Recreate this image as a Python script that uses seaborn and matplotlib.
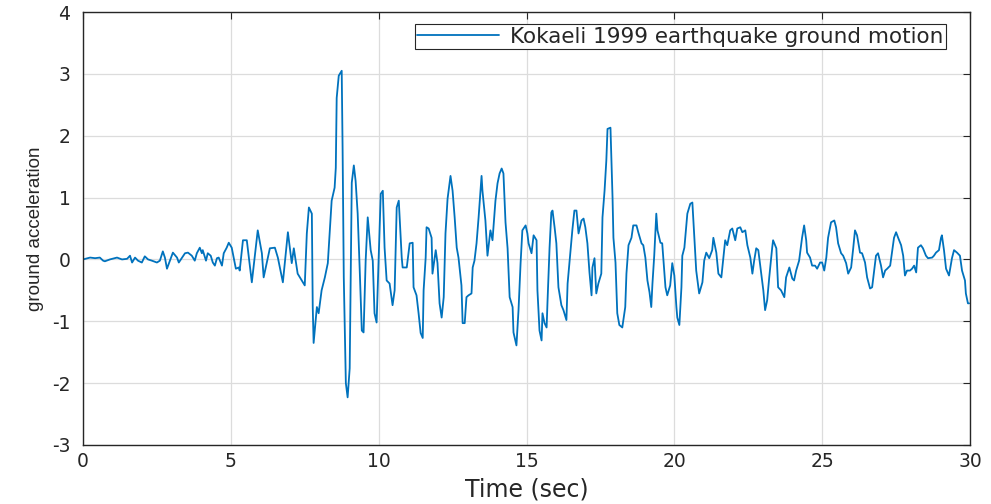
import matplotlib
matplotlib.use("Agg")
import matplotlib.pyplot as plt
import seaborn as sns
import pandas as pd

time_s = [0.00, 0.24, 0.41, 0.57, 0.68, 0.74, 0.91, 1.15, 1.32, 1.49, 1.59, 1.66, 1.76, 1.86, 1.99, 2.09,
          2.20, 2.33, 2.50, 2.60, 2.70, 2.77, 2.84, 2.94, 3.04, 3.18, 3.24, 3.34, 3.45, 3.55, 3.68, 3.78,
          3.85, 3.95, 4.02, 4.05, 4.16, 4.22, 4.32, 4.39, 4.46, 4.53, 4.59, 4.70, 4.76, 4.86, 4.93, 5.03,
          5.10, 5.17, 5.27, 5.30, 5.41, 5.54, 5.71, 5.91, 6.05, 6.11, 6.32, 6.49, 6.59, 6.76, 6.93, 7.06,
          7.13, 7.26, 7.50, 7.57, 7.64, 7.74, 7.77, 7.80, 7.91, 7.97, 8.07, 8.18, 8.28, 8.34, 8.41, 8.51,
          8.55, 8.58, 8.65, 8.75, 8.78, 8.82, 8.89, 8.95, 9.02, 9.05, 9.09, 9.16, 9.22, 9.29, 9.36, 9.43,
          9.49, 9.56, 9.63, 9.73, 9.80, 9.86, 9.93, 10.00, 10.07, 10.14, 10.20, 10.27, 10.37, 10.47, 10.54,
          10.61, 10.68, 10.78, 10.81, 10.95, 11.05, 11.15, 11.18, 11.28, 11.35, 11.42, 11.49, 11.52, 11.59,
          11.62, 11.69, 11.79, 11.82, 11.93, 11.99, 12.06, 12.13, 12.20, 12.26, 12.33, 12.43, 12.50, 12.57,
          12.64, 12.70, 12.80, 12.84, 12.91, 12.97, 13.04, 13.14, 13.18, 13.24, 13.31, 13.38, 13.48, 13.51,
          13.61, 13.68, 13.78, 13.85, 13.95, 14.02, 14.09, 14.16, 14.22, 14.29, 14.36, 14.43, 14.53, 14.56,
          14.66, 14.73, 14.80, 14.86, 14.97, 15.03, 15.07, 15.17, 15.24, 15.34, 15.37, 15.44, 15.51, 15.54,
          15.61, 15.68, 15.71, 15.78, 15.84, 15.88, 15.95, 16.01, 16.08, 16.18, 16.25, 16.35, 16.39, 16.45,
          16.55, 16.62, 16.69, 16.76, 16.86, 16.93, 16.99, 17.06, 17.13, 17.20, 17.23, 17.30, 17.36, 17.43,
          17.53, 17.57, 17.64, 17.70, 17.74, 17.84, 17.91, 17.94, 18.01, 18.07, 18.14, 18.24, 18.34, 18.38,
          18.45, 18.55, 18.61, 18.72, 18.78, 18.89, 18.95, 19.02, 19.09, 19.16, 19.22, 19.26, 19.32, 19.39,
          19.43, 19.53, 19.59, 19.70, 19.76, 19.86, 19.93, 20.00, 20.07, 20.10, 20.17, 20.24, 20.27, 20.34,
          20.44, 20.54, 20.61, 20.68, 20.74, 20.84, 20.95, 21.01, 21.08, 21.18, 21.28, 21.32, 21.42, 21.49,
          21.59, 21.66, 21.72, 21.79, 21.89, 21.96, 22.06, 22.13, 22.23, 22.30, 22.40, 22.47, 22.57, 22.64,
          22.70, 22.77, 22.84, 22.94, 23.01, 23.07, 23.14, 23.21, 23.31, 23.34, 23.45, 23.51, 23.61, 23.72,
          23.78, 23.89, 23.99, 24.05, 24.12, 24.22, 24.32, 24.39, 24.46, 24.49, 24.59, 24.66, 24.76, 24.83,
          24.93, 25.00, 25.07, 25.14, 25.20, 25.30, 25.41, 25.47, 25.54, 25.64, 25.71, 25.81, 25.88, 25.98,
          26.05, 26.11, 26.18, 26.28, 26.35, 26.45, 26.52, 26.62, 26.69, 26.76, 26.82, 26.89, 26.99, 27.06,
          27.13, 27.20, 27.30, 27.36, 27.43, 27.50, 27.57, 27.67, 27.74, 27.80, 27.87, 27.97, 28.04, 28.11,
          28.18, 28.24, 28.34, 28.41, 28.51, 28.58, 28.72, 28.78, 28.85, 28.95, 29.02, 29.05, 29.12, 29.19,
          29.29, 29.39, 29.46, 29.56, 29.66, 29.73, 29.83, 29.86, 29.93, 29.97]

acceleration = [0.00, 0.03, 0.02, 0.03, -0.02, -0.03, 0.00, 0.03, 0.00, 0.01, 0.06, -0.05, 0.03, -0.02, -0.05, 0.05,
                0.00, -0.02, -0.05, -0.02, 0.13, 0.03, -0.15, -0.02, 0.11, 0.03, -0.05, 0.02, 0.10, 0.11, 0.06, -0.02,
                0.10, 0.19, 0.10, 0.15, -0.02, 0.10, 0.06, -0.05, -0.10, 0.02, 0.03, -0.10, 0.10, 0.19, 0.27, 0.19,
                0.02, -0.15, -0.13, -0.18, 0.31, 0.31, -0.37, 0.47, 0.10, -0.29, 0.18, 0.19, 0.03, -0.37, 0.44, -0.06,
                0.18, -0.23, -0.42, 0.42, 0.84, 0.74, -0.77, -1.35, -0.77, -0.87, -0.50, -0.29, -0.06, 0.42, 0.95, 1.16,
                1.48, 2.61, 2.97, 3.05, 1.79, -0.29, -2.00, -2.23, -1.76, -0.47, 1.24, 1.52, 1.27, 0.74, -0.18, -1.15,
                -1.18, -0.02, 0.68, 0.15, -0.02, -0.87, -1.02, 0.03, 1.06, 1.11, 0.19, -0.34, -0.39, -0.74, -0.50,
                0.84, 0.95, 0.03, -0.13, -0.13, 0.26, 0.27, -0.45, -0.58, -0.87, -1.19, -1.27, -0.50, 0.03,
                0.52, 0.50, 0.35, -0.23, 0.15, -0.06, -0.71, -0.94, -0.61, 0.42, 0.98, 1.35, 1.11, 0.68,
                0.19, 0.03, -0.42, -1.03, -1.03, -0.61, -0.58, -0.55, -0.13, -0.02, 0.26, 0.68, 1.35, 1.11,
                0.63, 0.06, 0.47, 0.31, 0.95, 1.23, 1.39, 1.47, 1.39, 0.60, 0.18, -0.61, -0.77, -1.18,
                -1.39, -0.82, -0.06, 0.47, 0.55, 0.42, 0.26, 0.10, 0.39, 0.31, -0.50, -1.15, -1.31, -0.87,
                -1.03, -1.10, -0.69, 0.19, 0.76, 0.79, 0.52, 0.26, -0.45, -0.74, -0.82, -0.98, -0.39, -0.06,
                0.47, 0.79, 0.79, 0.42, 0.63, 0.66, 0.52, 0.26, -0.21, -0.58, -0.13, 0.02, -0.55, -0.39,
                -0.23, 0.68, 1.11, 1.60, 2.11, 2.13, 1.00, 0.35, -0.05, -0.87, -1.06, -1.10, -0.77, -0.23,
                0.23, 0.35, 0.55, 0.55, 0.44, 0.26, 0.23, 0.03, -0.34, -0.53, -0.77, -0.39, 0.06, 0.74,
                0.47, 0.27, 0.26, -0.45, -0.58, -0.42, -0.06, -0.26, -0.77, -0.94, -1.06, -0.45, 0.06, 0.19,
                0.74, 0.90, 0.92, 0.34, -0.18, -0.55, -0.37, -0.02, 0.11, 0.02, 0.15, 0.35, 0.11, -0.23,
                -0.29, 0.03, 0.31, 0.23, 0.47, 0.50, 0.31, 0.50, 0.52, 0.44, 0.47, 0.23, 0.03, -0.23,
                -0.02, 0.18, 0.15, -0.23, -0.50, -0.82, -0.66, -0.29, 0.19, 0.31, 0.18, -0.45, -0.50, -0.61,
                -0.29, -0.13, -0.31, -0.34, -0.18, -0.02, 0.35, 0.55, 0.31, 0.11, 0.03, -0.10, -0.10, -0.15,
                -0.05, -0.05, -0.18, 0.03, 0.35, 0.60, 0.63, 0.52, 0.26, 0.10, 0.06, -0.06, -0.23, -0.13,
                0.18, 0.47, 0.39, 0.11, 0.10, -0.05, -0.29, -0.47, -0.45, -0.18, 0.06, 0.10, -0.10, -0.29,
                -0.18, -0.15, -0.10, 0.11, 0.35, 0.44, 0.35, 0.23, 0.06, -0.26, -0.18, -0.18, -0.15, -0.10,
                -0.21, 0.19, 0.23, 0.18, 0.06, 0.02, 0.03, 0.06, 0.11, 0.15, 0.35, 0.39, 0.15, -0.15,
                -0.26, 0.02, 0.15, 0.11, 0.06, -0.18, -0.34, -0.55, -0.71, -0.71]

x_ticks = [0, 5, 10, 15, 20, 25, 30]
y_ticks = [-3, -2, -1, 0, 1, 2, 3, 4]
series_label = "Kokaeli 1999 earthquake ground motion"

df = pd.DataFrame({"Time (sec)": time_s, "ground acceleration": acceleration})

sns.set_theme(style="whitegrid")
plt.rcParams["font.family"] = ["DejaVu Sans"]
plt.rcParams["axes.unicode_minus"] = False

fig = plt.figure(figsize=(9.91, 5.04), dpi=100)
ax = fig.add_axes([83 / 991, 1 - 445 / 504, (970 - 83) / 991, (445 - 12) / 504])

sns.lineplot(data=df, x="Time (sec)", y="ground acceleration", ax=ax,
             color="#0072BD", linewidth=1.3, label=series_label, sort=False)

ax.set_xlim(0, 30)
ax.set_ylim(-3, 4)
ax.set_xticks(x_ticks)
ax.set_yticks(y_ticks)
ax.set_facecolor("white")
ax.grid(True, color="#dcdcdc", linewidth=0.9)
for side in ["left", "right", "top", "bottom"]:
    ax.spines[side].set_visible(True)
    ax.spines[side].set_color("#262626")
    ax.spines[side].set_linewidth(1.0)
ax.tick_params(axis="both", direction="in", length=5, width=0.8, color="#262626",
               labelsize=13.5, labelcolor="#262626", top=True, right=True)
ax.tick_params(axis="x", pad=5)
ax.tick_params(axis="y", pad=9)
ax.set_xlabel("Time (sec)", fontsize=17, color="#262626", labelpad=5)
ax.set_ylabel("ground acceleration", fontsize=13.5, color="#262626", labelpad=6,
              family=["Liberation Sans", "DejaVu Sans"])

leg = ax.legend(loc="upper right", bbox_to_anchor=((946 - 83) / 887, 1 - 12 / 433),
                fontsize=15.5, frameon=True, fancybox=False,
                edgecolor="#262626", framealpha=1.0, borderpad=0.12, handlelength=3.8,
                handletextpad=0.5, borderaxespad=0.0)
leg.get_frame().set_linewidth(0.8)

fig.savefig("out.png", dpi=100, facecolor="white")
